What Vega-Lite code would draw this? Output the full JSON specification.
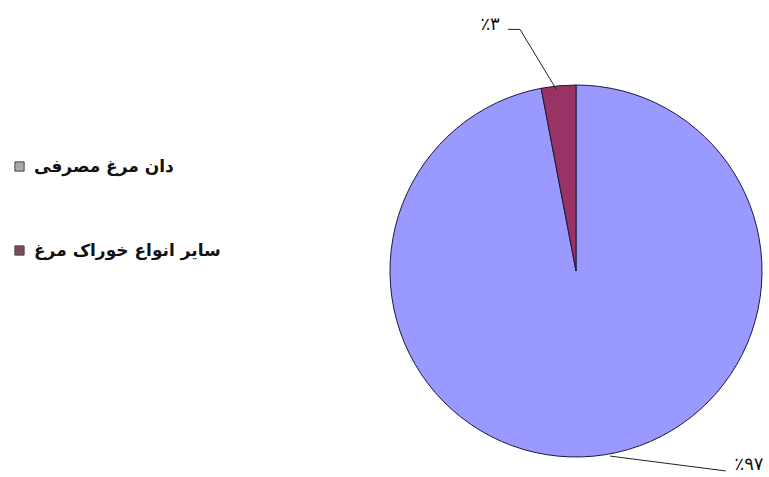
{
  "$schema": "https://vega.github.io/schema/vega-lite/v6.json",
  "autosize": {"type": "none"},
  "width": 372,
  "height": 372,
  "padding": {"left": 390, "right": 7, "top": 85, "bottom": 20},
  "background": "white",
  "config": {"view": {"stroke": null}, "font": "DejaVu Sans"},
  "layer": [
    {
      "data": {"values": [
        {"category": "دان مرغ مصرفی", "share": 97, "ord": 1},
        {"category": "سایر انواع خوراک مرغ", "share": 3, "ord": 2}
      ]},
      "mark": {"type": "arc", "outerRadius": 186, "stroke": "#1a1a3a", "strokeWidth": 1},
      "encoding": {
        "theta": {"field": "share", "type": "quantitative", "stack": true},
        "order": {"field": "ord", "type": "quantitative"},
        "fill": {
          "field": "category",
          "type": "nominal",
          "scale": {"domain": ["سایر انواع خوراک مرغ", "دان مرغ مصرفی"], "range": ["#993366", "#9999FF"]},
          "legend": null
        }
      }
    },
    {
      "data": {"values": [
        {"item": "دان مرغ مصرفی"},
        {"item": "سایر انواع خوراک مرغ"}
      ]},
      "mark": {"type": "arc", "outerRadius": 0, "innerRadius": 0, "stroke": "#444444", "strokeWidth": 1},
      "encoding": {
        "color": {
          "field": "item",
          "type": "nominal",
          "scale": {"domain": ["دان مرغ مصرفی", "سایر انواع خوراک مرغ"], "range": ["#a9a9a9", "#7d4a5e"]},
          "legend": {
            "title": null,
            "orient": "left",
            "offset": 96,
            "padding": 73,
            "symbolType": "square",
            "symbolSize": 85,
            "symbolOpacity": 1,
            "symbolStrokeColor": "#444444",
            "symbolStrokeWidth": 1,
            "labelFont": "DejaVu Sans",
            "labelFontSize": 17,
            "labelFontWeight": "bold",
            "labelColor": "#111111",
            "labelOffset": 6,
            "labelLimit": 400,
            "rowPadding": 66
          }
        }
      }
    },
    {
      "data": {"values": [
        {"label": "a", "pt": 1, "lx": -0.366, "ly": 1.299},
        {"label": "a", "pt": 2, "lx": -0.301, "ly": 1.299},
        {"label": "a", "pt": 3, "lx": -0.105, "ly": 0.975},
        {"label": "b", "pt": 1, "lx": 0.183, "ly": -0.995},
        {"label": "b", "pt": 2, "lx": 0.805, "ly": -1.075}
      ]},
      "mark": {"type": "line", "color": "#222222", "strokeWidth": 1},
      "encoding": {
        "x": {"field": "lx", "type": "quantitative", "scale": {"domain": [-1, 1], "nice": false, "zero": false}, "axis": null},
        "y": {"field": "ly", "type": "quantitative", "scale": {"domain": [-1, 1], "nice": false, "zero": false}, "axis": null},
        "detail": {"field": "label"},
        "order": {"field": "pt", "type": "quantitative"}
      }
    },
    {
      "data": {"values": [
        {"text": "٪۳", "lx": -0.462, "ly": 1.325},
        {"text": "٪۹۷", "lx": 0.93, "ly": -1.043}
      ]},
      "mark": {"type": "text", "fontSize": 18, "color": "#111111", "font": "DejaVu Sans", "baseline": "middle", "align": "center"},
      "encoding": {
        "x": {"field": "lx", "type": "quantitative"},
        "y": {"field": "ly", "type": "quantitative"},
        "text": {"field": "text"}
      }
    }
  ]
}
